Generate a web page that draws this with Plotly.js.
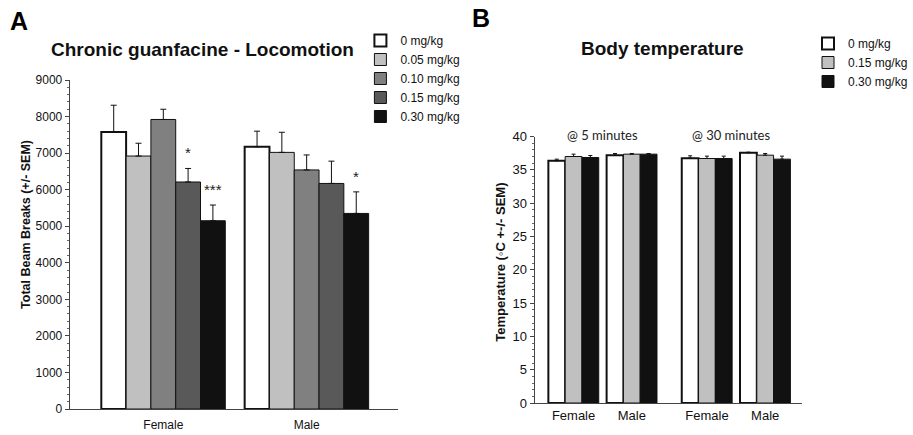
<!DOCTYPE html>
<html>
<head>
<meta charset="utf-8">
<script src="https://cdn.plot.ly/plotly-3.0.1.min.js"></script>
<style>
html,body{margin:0;padding:0;background:#fff;}
#chart{width:913px;height:435px;}
</style>
</head>
<body>
<div id="chart"></div>
<script>
// ---------- Panel A data ----------
var groupsA = ["Female", "Male"];
var dosesA = ["0 mg/kg", "0.05 mg/kg", "0.10 mg/kg", "0.15 mg/kg", "0.30 mg/kg"];
var meanA_0    = [7580, 7175];
var meanA_005  = [6920, 7020];
var meanA_010  = [7920, 6540];
var meanA_015  = [6210, 6170];
var meanA_030  = [5150, 5350];
var semA_0     = [730, 425];
var semA_005   = [350, 550];
var semA_010   = [280, 410];
var semA_015   = [370, 610];
var semA_030   = [430, 590];
var sigA_015   = ["*", ""];
var sigA_030   = ["***", "*"];
var titleA = "Chronic guanfacine - Locomotion";
var yTitleA = "Total Beam Breaks (+/- SEM)";

// ---------- Panel B data ----------
var groupsB = ["Female", "Male", "Female", "Male"];
var timeLabelsB = ["@ 5 minutes", "@ 30 minutes"];
var dosesB = ["0 mg/kg", "0.15 mg/kg", "0.30 mg/kg"];
var meanB_0   = [36.35, 37.2, 36.75, 37.55];
var meanB_015 = [37.0, 37.35, 36.7, 37.2];
var meanB_030 = [36.85, 37.35, 36.7, 36.6];
var semB_0    = [0.25, 0.25, 0.35, 0.1];
var semB_015  = [0.35, 0.1, 0.35, 0.25];
var semB_030  = [0.3, 0.1, 0.35, 0.45];
var titleB = "Body temperature";
var yTitleB = "Temperature (◦C +-/- SEM)";

// ---------- styles ----------
var colorsA = ["#ffffff", "#c0c0c0", "#808080", "#595959", "#111111"];
var colorsB = ["#ffffff", "#c0c0c0", "#111111"];
var FONT = "Liberation Sans, Arial, sans-serif";

function zeros(n){ var a=[]; for(var i=0;i<n;i++) a.push(0); return a; }

var traces = [];
var meansA = [meanA_0, meanA_005, meanA_010, meanA_015, meanA_030];
var semsA  = [semA_0, semA_005, semA_010, semA_015, semA_030];
for (var k = 0; k < dosesA.length; k++) {
  traces.push({
    type: "bar", name: dosesA[k], x: groupsA, y: meansA[k],
    xaxis: "x", yaxis: "y", legend: "legend",
    marker: {color: colorsA[k], line: {color: "#111", width: k === 0 ? 2 : 1}},
    error_y: {type: "data", array: semsA[k], arrayminus: zeros(groupsA.length),
              symmetric: false, color: "#111", thickness: 1, width: 3},
    hoverinfo: "x+y+name"
  });
}

// numeric positions for the four groups of panel B (gap between time points)
var posB = groupsB.map(function(g, i){ return i + (i >= 2 ? 0.29 : 0); });
var meansB = [meanB_0, meanB_015, meanB_030];
var semsB  = [semB_0, semB_015, semB_030];
for (var j = 0; j < dosesB.length; j++) {
  traces.push({
    type: "bar", name: dosesB[j], x: posB, y: meansB[j],
    xaxis: "x2", yaxis: "y2", legend: "legend2",
    marker: {color: colorsB[j], line: {color: "#111", width: j === 0 ? 2 : 1}},
    error_y: {type: "data", array: semsB[j], arrayminus: zeros(posB.length),
              symmetric: false, color: "#111", thickness: 1, width: 2},
    hoverinfo: "y+name"
  });
}

// significance annotations (bar offsets within group)
var bargap = 0.135;
var nA = dosesA.length;
var bw = (1 - bargap) / nA;
function offA(k){ return -(1 - bargap)/2 + bw*(k + 0.5); }
var annotations = [];
[[3, sigA_015, meanA_015, semA_015], [4, sigA_030, meanA_030, semA_030]].forEach(function(s){
  for (var g = 0; g < groupsA.length; g++) {
    if (!s[1][g]) continue;
    annotations.push({
      xref: "x", yref: "y", x: g + offA(s[0]), y: s[2][g] + s[3][g],
      text: s[1][g], showarrow: false, yanchor: "bottom", yshift: 5,
      font: {family: FONT, size: 15, color: "#222"}
    });
  }
});
// time-point labels in panel B
var timeX = [0.5, 2.7];
for (var t = 0; t < timeLabelsB.length; t++) {
  annotations.push({
    xref: "x2", yref: "y2 domain", x: timeX[t], y: 1.005, text: timeLabelsB[t],
    showarrow: false, yanchor: "middle",
    font: {family: "Lato, Liberation Sans, sans-serif", size: 13, color: "#222"}
  });
}
// panel letters, titles, y-axis titles
annotations.push({xref: "paper", yref: "paper", x: 19/913, y: 1 - 21/435, text: "<b>A</b>",
  showarrow: false, xanchor: "center", yanchor: "middle", font: {family: FONT, size: 25, color: "#000"}});
annotations.push({xref: "paper", yref: "paper", x: 483/913, y: 1 - 18/435, text: "<b>B</b>",
  showarrow: false, xanchor: "center", yanchor: "middle", font: {family: FONT, size: 25, color: "#000"}});
annotations.push({xref: "paper", yref: "paper", x: 203/913, y: 1 - 50/435, text: "<b>" + titleA + "</b>",
  showarrow: false, xanchor: "center", yanchor: "middle", font: {family: FONT, size: 19, color: "#111"}});
annotations.push({xref: "paper", yref: "paper", x: 665/913, y: 1 - 48/435, text: "<b>" + titleB + "</b>",
  showarrow: false, xanchor: "center", yanchor: "middle", font: {family: FONT, size: 19, color: "#111"}});
annotations.push({xref: "paper", yref: "paper", x: 26/913, y: 1 - 224/435, text: "<b>" + yTitleA + "</b>",
  textangle: -90, showarrow: false, xanchor: "center", yanchor: "middle", font: {family: FONT, size: 12.5, color: "#111"}});
annotations.push({xref: "paper", yref: "paper", x: 502/913, y: 1 - 262/435, text: "<b>" + yTitleB + "</b>",
  textangle: -90, showarrow: false, xanchor: "center", yanchor: "middle", font: {family: FONT, size: 13, color: "#111"}});

var layout = {
  width: 913, height: 435,
  margin: {l: 0, r: 0, t: 0, b: 0},
  paper_bgcolor: "#fff", plot_bgcolor: "#fff",
  barmode: "group", bargap: bargap, bargroupgap: 0,
  font: {family: FONT, color: "#222"},
  xaxis: {domain: [70/913, 400/913], range: [-0.653, 1.639], anchor: "y",
          showline: true, linecolor: "#444", linewidth: 1, ticks: "", showgrid: false,
          zeroline: false, tickfont: {family: FONT, size: 12, color: "#111"},
          ticklabelstandoff: 5, fixedrange: true},
  yaxis: {domain: [26/435, 355/435], range: [0, 9000], anchor: "x", dtick: 1000,
          showline: true, linecolor: "#444", linewidth: 1, ticks: "outside", ticklen: 4,
          tickcolor: "#444", showgrid: false, zeroline: false,
          tickfont: {family: FONT, size: 12, color: "#111"},
          minor: {dtick: 200, ticks: "outside", ticklen: 2, tickcolor: "#666", showgrid: false},
          fixedrange: true},
  xaxis2: {domain: [537/913, 806/913], range: [-0.668, 3.93], anchor: "y2",
          showline: true, linecolor: "#444", linewidth: 1, ticks: "", showgrid: false,
          zeroline: false, tickfont: {family: FONT, size: 13, color: "#111"},
          tickmode: "array", tickvals: posB, ticktext: groupsB, fixedrange: true},
  yaxis2: {domain: [32/435, 298.5/435], range: [0, 40], anchor: "x2", dtick: 5,
          showline: true, linecolor: "#444", linewidth: 1, ticks: "outside", ticklen: 4,
          tickcolor: "#444", showgrid: false, zeroline: false,
          tickfont: {family: FONT, size: 13, color: "#111"},
          minor: {dtick: 1, ticks: "outside", ticklen: 2, tickcolor: "#666", showgrid: false},
          fixedrange: true},
  legend: {x: 362/913, y: 1 - 26/435, xanchor: "left", yanchor: "top",
           font: {family: FONT, size: 12, color: "#111"}, bgcolor: "rgba(0,0,0,0)",
           tracegroupgap: 0, itemclick: false, itemdoubleclick: false},
  legend2: {x: 812/913, y: 1 - 29/435, xanchor: "left", yanchor: "top",
           font: {family: FONT, size: 12, color: "#111"}, bgcolor: "rgba(0,0,0,0)",
           tracegroupgap: 0, itemclick: false, itemdoubleclick: false},
  showlegend: true,
  annotations: annotations
};

Plotly.newPlot("chart", traces, layout, {displayModeBar: false, staticPlot: true});
</script>
</body>
</html>
